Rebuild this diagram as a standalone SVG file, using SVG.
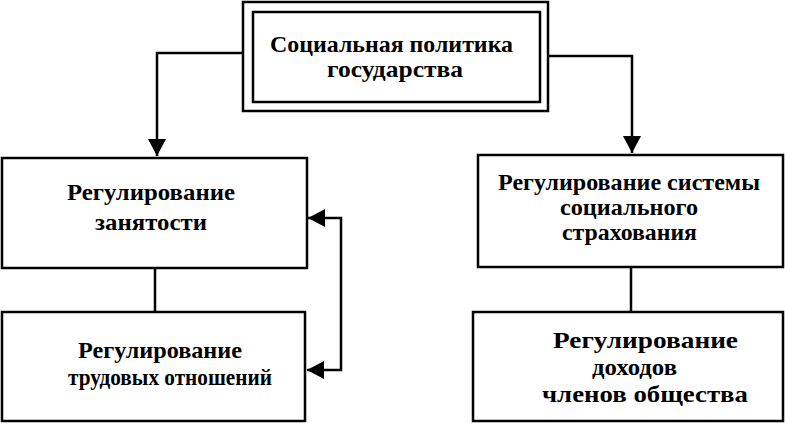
<svg xmlns="http://www.w3.org/2000/svg" width="785" height="423" viewBox="0 0 785 423">
<defs>
<style>
.box{fill:#fff;stroke:#000;stroke-width:2.5}
.t{font-family:'Liberation Serif','Times New Roman',serif;font-weight:bold;font-size:23.5px;fill:#000}
.c{fill:none;stroke:#000;stroke-width:2.5}
</style>
<marker id="ah" viewBox="0 0 17 18" refX="17" refY="9" markerWidth="17" markerHeight="18" markerUnits="userSpaceOnUse" orient="auto">
<path d="M0,0 L17,9 L0,18 Z" fill="#000"/>
</marker>
<marker id="ahs" viewBox="0 0 17 18" refX="0" refY="9" markerWidth="17" markerHeight="18" markerUnits="userSpaceOnUse" orient="auto">
<path d="M17,0 L0,9 L17,18 Z" fill="#000"/>
</marker>
</defs>
<rect width="785" height="423" fill="#fff"/>
<g id="connectors">
<path class="c" d="M243,53 H157 V156" marker-end="url(#ah)"/>
<path class="c" d="M548,56 H632 V153" marker-end="url(#ah)"/>
<path class="c" d="M155,268 V312"/>
<path class="c" d="M631,267 V312"/>
<path class="c" d="M308,218 H341 V370 H307" marker-start="url(#ahs)" marker-end="url(#ah)"/>
</g>
<g id="top">
<rect class="box" x="243" y="2" width="305" height="109"/>
<rect class="box" x="253" y="12" width="287" height="90"/>
<text class="t" x="270" y="52" textLength="243" lengthAdjust="spacingAndGlyphs">Социальная политика</text>
<text class="t" x="327" y="77" textLength="136" lengthAdjust="spacingAndGlyphs">государства</text>
</g>
<g id="employment">
<rect class="box" x="2" y="158" width="305" height="110"/>
<text class="t" x="67" y="200" textLength="168" lengthAdjust="spacingAndGlyphs">Регулирование</text>
<text class="t" x="95" y="230" textLength="112" lengthAdjust="spacingAndGlyphs">занятости</text>
</g>
<g id="labour">
<rect class="box" x="2" y="312" width="303" height="109"/>
<text class="t" x="78" y="358" textLength="164" lengthAdjust="spacingAndGlyphs">Регулирование</text>
<text class="t" x="68" y="385" textLength="204" lengthAdjust="spacingAndGlyphs">трудовых отношений</text>
</g>
<g id="insurance">
<rect class="box" x="478" y="155" width="305" height="112"/>
<text class="t" x="498" y="190" textLength="262" lengthAdjust="spacingAndGlyphs">Регулирование системы</text>
<text class="t" x="560" y="215" textLength="138" lengthAdjust="spacingAndGlyphs">социального</text>
<text class="t" x="562" y="240" textLength="135" lengthAdjust="spacingAndGlyphs">страхования</text>
</g>
<g id="income">
<rect class="box" x="473" y="312" width="310" height="109"/>
<text class="t" x="553" y="348" textLength="185" lengthAdjust="spacingAndGlyphs">Регулирование</text>
<text class="t" x="592" y="375" textLength="85" lengthAdjust="spacingAndGlyphs">доходов</text>
<text class="t" x="542" y="402" textLength="206" lengthAdjust="spacingAndGlyphs">членов общества</text>
</g>
</svg>
